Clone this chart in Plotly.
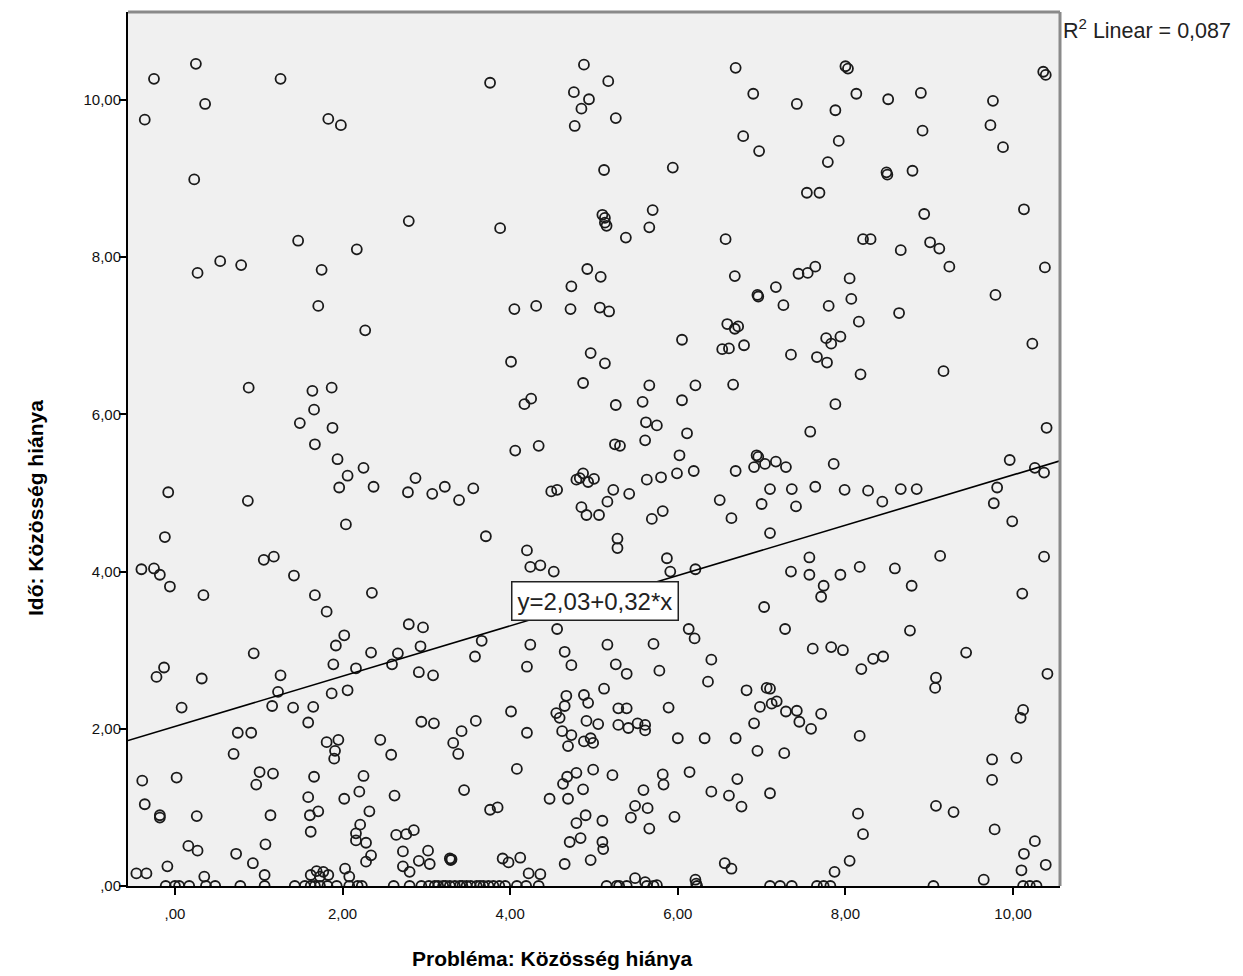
import plotly.graph_objects as go

# ---- data ----
pts_top = [
    (0.25,10.46),(-0.25,10.27),(1.26,10.27),(0.36,9.95),(-0.36,9.75),(1.83,9.76),(1.98,9.68),
    (0.23,8.99),(2.79,8.46),(1.47,8.21),(2.17,8.10),(0.54,7.95),(0.79,7.90),(0.27,7.80),
    (1.75,7.84),(1.71,7.38),
    (3.76,10.22),(4.88,10.45),(5.17,10.24),(4.76,10.10),(4.94,10.01),(4.85,9.89),(4.77,9.67),
    (5.26,9.77),(6.69,10.41),(6.90,10.08),(6.78,9.54),(6.97,9.35),(5.12,9.11),(5.94,9.14),
    (5.10,8.54),(5.13,8.50),(5.13,8.44),(5.15,8.40),(5.70,8.60),(5.66,8.38),(5.38,8.25),
    (3.88,8.37),(6.57,8.23),(6.68,7.76),(4.92,7.85),(5.08,7.75),(4.73,7.63),
    (8.00,10.43),(8.03,10.40),(10.36,10.36),(10.39,10.32),(7.42,9.95),(7.88,9.87),(8.13,10.08),
    (8.51,10.01),(8.90,10.09),(9.76,9.99),(9.73,9.68),(9.88,9.40),(8.92,9.61),(7.92,9.48),
    (7.79,9.21),(8.49,9.08),(8.50,9.05),(8.80,9.10),(7.54,8.82),(7.69,8.82),(10.13,8.61),
    (8.94,8.55),(8.21,8.23),(8.30,8.23),(8.66,8.09),(9.01,8.19),(9.12,8.11),(9.24,7.88),
    (10.38,7.87),(7.64,7.88),(7.55,7.80),(7.44,7.79),(7.17,7.62),(6.95,7.52),(6.96,7.50),
    (8.05,7.73),(8.07,7.47),(7.26,7.39),(7.80,7.38),(9.79,7.52),
]
pts_mid = [
    (2.27,7.07),(0.88,6.34),(1.64,6.30),(1.87,6.34),(1.66,6.06),(1.49,5.89),(1.88,5.83),
    (1.67,5.62),(1.94,5.43),(2.25,5.32),(2.06,5.22),(1.96,5.07),(2.37,5.08),(2.87,5.19),
    (2.78,5.01),(3.07,4.99),(3.22,5.08),(-0.08,5.01),(0.87,4.90),(2.04,4.60),(-0.12,4.44),
    (1.06,4.15),(1.18,4.19),(1.42,3.95),(-0.40,4.03),(-0.25,4.04),(-0.18,3.96),(-0.06,3.81),
    (0.34,3.70),(1.67,3.70),(2.35,3.73),
    (4.05,7.34),(4.31,7.38),(4.72,7.34),(5.07,7.36),(5.18,7.31),(4.01,6.67),(4.96,6.78),
    (5.13,6.65),(4.87,6.40),(4.25,6.20),(4.17,6.13),(5.26,6.12),(4.06,5.54),(4.34,5.60),
    (5.25,5.62),(5.31,5.60),(5.66,6.37),(5.58,6.16),(5.62,5.90),(5.75,5.86),(5.61,5.67),
    (6.05,6.95),(6.21,6.37),(6.05,6.18),(6.11,5.76),(6.02,5.48),(5.99,5.25),(6.19,5.28),
    (5.80,5.20),(5.63,5.17),(6.66,6.38),(6.59,7.15),(6.68,7.09),(6.72,7.12),(6.53,6.83),
    (6.61,6.84),(6.79,6.88),(6.69,5.28),(4.83,5.19),(4.87,5.25),(4.93,5.14),(5.00,5.18),
    (4.79,5.17),(5.23,5.04),(5.42,4.99),(5.16,4.89),(4.85,4.82),(4.91,4.72),(5.06,4.72),
    (4.49,5.02),(4.56,5.04),(3.39,4.91),(3.56,5.06),(3.71,4.45),(4.20,4.27),(4.24,4.06),
    (4.36,4.08),(4.52,4.00),(5.28,4.42),(5.28,4.30),(6.50,4.91),(6.64,4.68),(5.69,4.67),
    (5.82,4.77),(5.87,4.17),(5.91,4.00),(6.21,4.03),
    (8.64,7.29),(8.16,7.18),(7.94,6.99),(7.77,6.97),(7.83,6.90),(7.35,6.76),(7.66,6.73),
    (7.78,6.66),(8.18,6.51),(10.23,6.90),(9.17,6.55),(7.88,6.13),(7.58,5.78),(10.40,5.83),
    (6.94,5.48),(6.96,5.46),(6.91,5.33),(7.04,5.37),(7.17,5.40),(7.29,5.33),(7.86,5.37),
    (9.96,5.42),(10.26,5.32),(10.37,5.26),(7.10,5.05),(7.36,5.05),(7.64,5.08),(7.99,5.04),
    (8.27,5.03),(8.66,5.05),(8.85,5.05),(8.44,4.89),(7.00,4.86),(7.41,4.83),(9.81,5.07),
    (9.77,4.87),(9.99,4.64),(7.10,4.49),(7.57,4.18),(7.35,4.00),(7.57,3.96),(7.74,3.82),
    (7.71,3.68),(7.94,3.96),(8.17,4.06),(8.59,4.04),(8.79,3.82),(9.13,4.20),(10.37,4.19),
    (10.11,3.72),
]
pts_low = [
    (1.81,3.49),(2.79,3.33),(2.96,3.29),(2.93,3.05),(3.08,2.68),(2.91,2.72),(2.02,3.19),
    (1.92,3.06),(2.34,2.97),(2.66,2.96),(2.59,2.82),(2.16,2.77),(1.89,2.82),(2.06,2.49),
    (1.87,2.45),(0.94,2.96),(1.26,2.68),(1.23,2.47),(1.16,2.29),(1.41,2.27),(1.65,2.28),
    (1.59,2.08),(-0.13,2.78),(-0.22,2.66),(0.32,2.64),(0.08,2.27),(0.75,1.95),(0.91,1.95),
    (0.70,1.68),(1.81,1.83),(1.95,1.86),(1.91,1.72),(1.90,1.62),(2.45,1.86),(2.58,1.67),
    (2.25,1.40),(2.20,1.20),(2.62,1.15),(2.02,1.11),(1.66,1.39),(1.59,1.13),(1.61,0.90),
    (1.71,0.95),(1.62,0.69),(2.32,0.95),(2.21,0.78),(2.16,0.67),(2.16,0.58),(2.28,0.55),
    (2.34,0.39),(2.28,0.31),(2.64,0.65),(2.76,0.66),(2.85,0.71),(2.72,0.44),(3.02,0.45),
    (2.91,0.32),(3.04,0.28),(2.72,0.25),(2.80,0.18),(2.94,2.09),(3.09,2.07),(0.97,1.29),
    (1.01,1.45),(1.17,1.43),(0.02,1.38),(-0.39,1.34),(-0.36,1.04),(-0.18,0.90),(-0.18,0.87),
    (0.26,0.89),(1.14,0.90),(0.16,0.51),(0.27,0.45),(0.73,0.41),(1.08,0.53),(0.93,0.29),
    (1.07,0.14),(-0.09,0.25),(-0.46,0.16),(-0.34,0.16),(0.35,0.12),(1.69,0.19),(1.77,0.18),
    (1.83,0.14),(1.62,0.14),(1.73,0.12),(2.03,0.22),(2.08,0.12),
    (4.56,3.27),(3.66,3.12),(3.58,2.92),(4.24,3.07),(4.20,2.79),(4.65,2.98),(4.73,2.81),
    (5.16,3.07),(5.71,3.08),(6.13,3.27),(6.20,3.15),(5.26,2.82),(5.39,2.70),(5.78,2.74),
    (6.40,2.88),(6.36,2.60),(6.82,2.49),(5.12,2.51),(4.67,2.42),(4.88,2.43),(4.93,2.33),
    (4.65,2.29),(4.55,2.20),(4.59,2.14),(4.01,2.22),(4.91,2.10),(5.05,2.06),(4.62,1.97),
    (4.73,1.92),(4.69,1.78),(4.88,1.84),(4.96,1.88),(4.99,1.82),(4.20,1.95),(5.29,2.26),
    (5.39,2.26),(5.29,2.05),(5.41,2.01),(5.52,2.07),(5.61,2.05),(5.61,1.98),(5.89,2.27),
    (6.00,1.88),(6.32,1.88),(6.69,1.88),(6.91,2.07),(3.59,2.10),(3.42,1.97),(3.32,1.82),
    (3.38,1.68),(4.08,1.49),(3.45,1.22),(3.76,0.97),(3.85,1.00),(4.47,1.11),(4.69,1.11),
    (4.87,1.23),(4.63,1.30),(4.68,1.39),(4.79,1.44),(4.99,1.48),(5.22,1.41),(4.79,0.80),
    (4.90,0.90),(4.71,0.56),(4.84,0.61),(5.10,0.83),(5.10,0.56),(5.11,0.47),(4.96,0.33),
    (4.65,0.28),(4.12,0.36),(3.91,0.35),(3.98,0.30),(3.28,0.35),(3.29,0.33),(3.30,0.34),
    (4.22,0.16),(4.36,0.15),(5.49,0.10),(5.61,0.05),(5.75,0.01),(5.59,1.22),(5.49,1.02),
    (5.64,0.99),(5.44,0.87),(5.66,0.73),(5.82,1.42),(5.83,1.29),(6.14,1.45),(5.96,0.88),
    (6.40,1.20),(6.61,1.15),(6.76,1.01),(6.71,1.36),(6.56,0.29),(6.64,0.22),(6.21,0.08),
    (6.22,0.03),
    (7.03,3.55),(7.28,3.27),(8.77,3.25),(7.61,3.02),(7.83,3.04),(7.97,3.00),(8.19,2.76),
    (8.33,2.89),(8.45,2.92),(9.44,2.97),(10.41,2.70),(9.08,2.65),(9.07,2.52),(7.06,2.52),
    (7.10,2.51),(7.18,2.35),(7.12,2.32),(6.98,2.28),(7.29,2.22),(7.42,2.23),(7.45,2.09),
    (7.59,2.00),(7.71,2.19),(8.17,1.91),(6.95,1.72),(7.27,1.69),(10.12,2.24),(10.09,2.14),
    (9.75,1.61),(10.04,1.63),(9.75,1.35),(7.10,1.18),(9.08,1.02),(9.29,0.94),(8.15,0.92),
    (8.21,0.66),(9.78,0.72),(10.26,0.57),(10.13,0.41),(10.10,0.20),(10.39,0.27),(8.05,0.32),
    (7.87,0.18),(9.65,0.08),
]
zero_x = [
    -0.11,0.0,0.05,0.17,0.37,0.48,0.78,1.07,1.43,1.55,1.62,1.67,1.73,1.82,1.93,2.08,2.18,
    2.23,2.61,2.80,2.94,3.03,3.10,3.14,3.20,3.23,3.28,3.34,3.40,3.43,3.48,3.53,3.60,3.64,
    3.68,3.74,3.80,3.87,3.94,4.08,4.19,4.34,5.15,5.27,5.30,5.39,5.63,5.71,6.23,7.10,7.22,
    7.36,7.66,7.74,7.82,9.05,10.12,10.20,10.28,
]

intercept = 2.03
slope = 0.32
r2_text = "R<sup>2</sup> Linear = 0,087"
eq_text = "y=2,03+0,32*x"
x_title = "Probléma: Közösség hiánya"
y_title = "Idő: Közösség hiánya"
tick_vals = [0, 2, 4, 6, 8, 10]
tick_text = [",00", "2,00", "4,00", "6,00", "8,00", "10,00"]
x_range = [-0.56, 10.56]
y_range = [0, 11.12]

all_pts = pts_top + pts_mid + pts_low + [(x, 0.0) for x in zero_x]
xs = [p[0] for p in all_pts]
ys = [p[1] for p in all_pts]

FONT = "Liberation Sans, Arial, sans-serif"

fig = go.Figure()
fig.add_trace(go.Scatter(
    x=xs, y=ys, mode="markers",
    marker=dict(symbol="circle-open", size=10, color="#1a1a1a", line=dict(width=1.8)),
    showlegend=False, hoverinfo="skip",
))
fig.add_trace(go.Scatter(
    x=x_range, y=[intercept + slope * v for v in x_range], mode="lines",
    line=dict(color="black", width=1.6), showlegend=False, hoverinfo="skip",
))

axis_common = dict(
    tickvals=tick_vals, ticktext=tick_text,
    showgrid=False, zeroline=False, showline=True, linecolor="black", linewidth=2,
    ticks="outside", ticklen=7, tickwidth=1.5, tickcolor="black",
    tickfont=dict(size=15, color="#111"),
)

fig.update_layout(
    width=1235, height=968,
    margin=dict(l=120, r=183, t=4, b=90),
    paper_bgcolor="white", plot_bgcolor="#F0F0F0",
    font=dict(family=FONT, size=14, color="black"),
    xaxis=dict(range=x_range, ticklabelstandoff=6, **axis_common),
    yaxis=dict(range=y_range, ticklabelstandoff=-5, **axis_common),
    shapes=[
        dict(type="line", xref="paper", yref="paper", x0=0, x1=1, y0=1, y1=1,
             line=dict(color="#8a8a8a", width=3)),
        dict(type="line", xref="paper", yref="paper", x0=1, x1=1, y0=0, y1=1,
             line=dict(color="#8a8a8a", width=3)),
    ],
    annotations=[
        dict(x=5.01, y=3.63, xref="x", yref="y", text=eq_text, showarrow=False,
             font=dict(size=24, color="#222"), bgcolor="white", bordercolor="#222",
             borderwidth=1.5, borderpad=5),
        dict(x=1, y=0.981, xref="paper", yref="paper", xanchor="left", yanchor="middle",
             xshift=1, text=r2_text, showarrow=False, font=dict(size=21.5, color="#222")),
        dict(x=0.5, y=0, xref="paper", yref="paper", xanchor="center", yanchor="middle",
             yshift=-72, xshift=-42, text="<b>" + x_title + "</b>", showarrow=False,
             font=dict(size=21, color="black")),
        dict(x=0, y=0.5, xref="paper", yref="paper", xanchor="center", yanchor="middle",
             xshift=-93, yshift=-59, text="<b>" + y_title + "</b>", showarrow=False,
             textangle=-90, font=dict(size=21, color="black")),
    ],
)

fig.write_html("out.html")
